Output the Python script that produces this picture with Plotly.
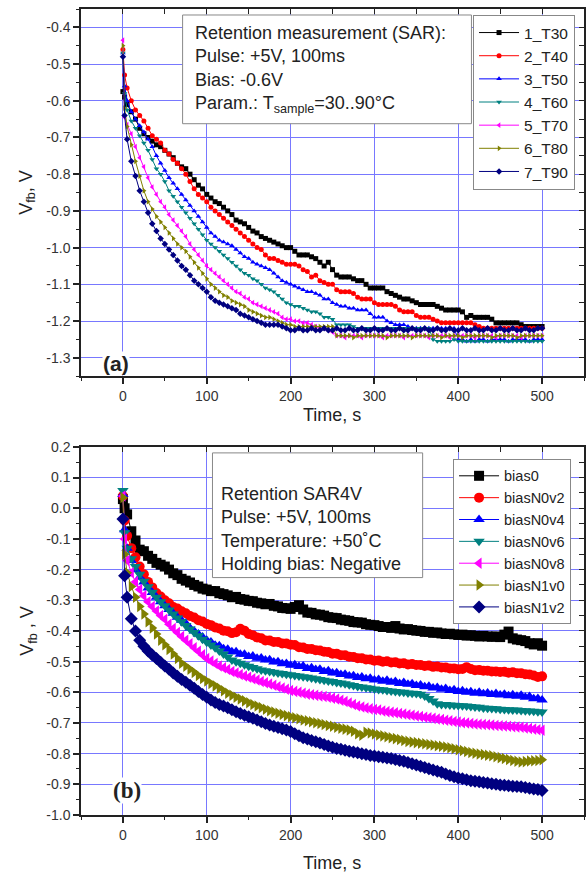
import plotly.graph_objects as go

# ---------------- data ----------------
TIME = [0, 2] + list(range(5, 505, 5))

# Panel (a): retention at different sample temperatures (V_fb, V)
T30 = [-0.575, -0.59,
       -0.61, -0.63, -0.65, -0.675, -0.69, -0.70, -0.71, -0.72, -0.725, -0.735,
       -0.745, -0.755, -0.77, -0.78, -0.785, -0.80, -0.815, -0.83, -0.84, -0.855,
       -0.865, -0.875, -0.88, -0.89, -0.90, -0.91, -0.925, -0.93, -0.935, -0.945,
       -0.955, -0.96, -0.97, -0.975, -0.98, -0.985, -0.99, -0.995, -1.0, -1.0,
       -1.01, -1.02, -1.02, -1.02, -1.025, -1.03, -1.04, -1.05, -1.04, -1.06,
       -1.075, -1.08, -1.08, -1.08, -1.085, -1.09, -1.09, -1.10, -1.11, -1.11,
       -1.11, -1.11, -1.12, -1.125, -1.13, -1.135, -1.14, -1.14, -1.145, -1.15,
       -1.155, -1.155, -1.155, -1.155, -1.16, -1.165, -1.17, -1.17, -1.17, -1.17,
       -1.175, -1.19, -1.185, -1.19, -1.19, -1.19, -1.19, -1.195, -1.205, -1.205,
       -1.205, -1.205, -1.205, -1.205, -1.21, -1.215, -1.215, -1.215, -1.215, -1.215]
T40 = [-0.46, -0.53,
       -0.565, -0.60, -0.625, -0.64, -0.655, -0.675, -0.695, -0.705, -0.715, -0.735,
       -0.745, -0.76, -0.77, -0.785, -0.80, -0.82, -0.84, -0.855, -0.865, -0.875,
       -0.89, -0.90, -0.91, -0.92, -0.93, -0.94, -0.95, -0.96, -0.97, -0.98,
       -0.99, -1.0, -1.005, -1.02, -1.03, -1.03, -1.035, -1.04, -1.045, -1.045,
       -1.045, -1.05, -1.06, -1.065, -1.08, -1.075, -1.09, -1.095, -1.10, -1.10,
       -1.115, -1.12, -1.12, -1.12, -1.125, -1.135, -1.14, -1.14, -1.14, -1.15,
       -1.155, -1.155, -1.155, -1.155, -1.16, -1.17, -1.175, -1.175, -1.175, -1.185,
       -1.19, -1.19, -1.19, -1.195, -1.20, -1.205, -1.205, -1.205, -1.205, -1.205,
       -1.205, -1.205, -1.205, -1.21, -1.215, -1.22, -1.22, -1.22, -1.22, -1.22,
       -1.22, -1.22, -1.22, -1.22, -1.22, -1.22, -1.22, -1.22, -1.22, -1.22]
T50 = [-0.47, -0.56,
       -0.60, -0.63, -0.65, -0.668, -0.685, -0.705, -0.725, -0.75, -0.77, -0.79,
       -0.81, -0.825, -0.84, -0.855, -0.87, -0.885, -0.90, -0.915, -0.93, -0.945,
       -0.96, -0.97, -0.98, -0.985, -0.99, -0.995, -1.005, -1.015, -1.025, -1.03,
       -1.04, -1.045, -1.05, -1.055, -1.06, -1.07, -1.08, -1.09, -1.095, -1.10,
       -1.105, -1.11, -1.115, -1.12, -1.12, -1.125, -1.13, -1.14, -1.14, -1.15,
       -1.155, -1.16, -1.16, -1.165, -1.165, -1.17, -1.17, -1.17, -1.18, -1.19,
       -1.19, -1.19, -1.20, -1.205, -1.21, -1.21, -1.21, -1.215, -1.22, -1.22,
       -1.22, -1.22, -1.22, -1.22, -1.22, -1.22, -1.22, -1.22, -1.22, -1.25,
       -1.25, -1.255, -1.25, -1.255, -1.25, -1.25, -1.255, -1.25, -1.25, -1.25,
       -1.25, -1.255, -1.25, -1.25, -1.25, -1.25, -1.255, -1.25, -1.25, -1.25]
T60 = [-0.47, -0.58,
       -0.625, -0.655, -0.675, -0.695, -0.715, -0.735, -0.76, -0.785, -0.80, -0.82,
       -0.845, -0.86, -0.875, -0.89, -0.905, -0.92, -0.935, -0.95, -0.965, -0.98,
       -0.99, -1.0, -1.01, -1.02, -1.03, -1.04, -1.05, -1.06, -1.07, -1.075,
       -1.085, -1.09, -1.10, -1.11, -1.115, -1.12, -1.13, -1.14, -1.15, -1.155,
       -1.16, -1.16, -1.165, -1.17, -1.175, -1.175, -1.18, -1.19, -1.19, -1.195,
       -1.21, -1.21, -1.21, -1.21, -1.215, -1.22, -1.22, -1.22, -1.22, -1.22,
       -1.22, -1.22, -1.22, -1.22, -1.22, -1.22, -1.22, -1.22, -1.22, -1.22,
       -1.22, -1.22, -1.22, -1.25, -1.255, -1.255, -1.255, -1.255, -1.25, -1.255,
       -1.255, -1.255, -1.255, -1.255, -1.255, -1.255, -1.255, -1.255, -1.255, -1.255,
       -1.255, -1.255, -1.255, -1.255, -1.255, -1.255, -1.255, -1.255, -1.255, -1.255]
T70 = [-0.435, -0.645,
       -0.665, -0.69, -0.725, -0.755, -0.78, -0.81, -0.835, -0.855, -0.875, -0.89,
       -0.91, -0.925, -0.94, -0.955, -0.97, -0.99, -1.005, -1.02, -1.035, -1.05,
       -1.06, -1.07, -1.08, -1.09, -1.10, -1.11, -1.12, -1.125, -1.135, -1.14,
       -1.15, -1.155, -1.16, -1.165, -1.17, -1.175, -1.18, -1.19, -1.195, -1.195,
       -1.20, -1.20, -1.205, -1.205, -1.21, -1.215, -1.22, -1.22, -1.225, -1.23,
       -1.24, -1.24, -1.245, -1.24, -1.24, -1.24, -1.245, -1.24, -1.24, -1.24,
       -1.24, -1.245, -1.24, -1.24, -1.24, -1.24, -1.245, -1.24, -1.24, -1.24,
       -1.24, -1.24, -1.245, -1.24, -1.24, -1.24, -1.24, -1.245, -1.24, -1.24,
       -1.24, -1.24, -1.24, -1.245, -1.24, -1.24, -1.24, -1.24, -1.245, -1.24,
       -1.24, -1.24, -1.24, -1.24, -1.245, -1.24, -1.24, -1.24, -1.24, -1.24]
T80 = [-0.45, -0.62,
       -0.67, -0.72, -0.765, -0.805, -0.845, -0.875, -0.895, -0.915, -0.93, -0.945,
       -0.96, -0.975, -0.99, -1.0, -1.01, -1.025, -1.04, -1.055, -1.07, -1.085,
       -1.10, -1.11, -1.12, -1.13, -1.135, -1.145, -1.15, -1.155, -1.16, -1.17,
       -1.175, -1.18, -1.185, -1.19, -1.19, -1.195, -1.20, -1.205, -1.21, -1.21,
       -1.215, -1.215, -1.215, -1.215, -1.215, -1.215, -1.215, -1.215, -1.215, -1.215,
       -1.24, -1.24, -1.24, -1.24, -1.245, -1.24, -1.24, -1.24, -1.24, -1.24,
       -1.24, -1.24, -1.245, -1.24, -1.24, -1.24, -1.24, -1.24, -1.245, -1.24,
       -1.24, -1.24, -1.24, -1.24, -1.24, -1.245, -1.24, -1.24, -1.24, -1.24,
       -1.245, -1.24, -1.24, -1.24, -1.24, -1.24, -1.24, -1.245, -1.24, -1.24,
       -1.24, -1.24, -1.24, -1.245, -1.24, -1.24, -1.24, -1.24, -1.24, -1.24]
T90 = [-0.48, -0.64,
       -0.705, -0.765, -0.805, -0.845, -0.875, -0.905, -0.935, -0.955, -0.975, -0.99,
       -1.005, -1.02, -1.035, -1.05, -1.06, -1.075, -1.09, -1.10, -1.11, -1.12,
       -1.135, -1.145, -1.15, -1.155, -1.16, -1.165, -1.17, -1.18, -1.185, -1.19,
       -1.195, -1.20, -1.205, -1.21, -1.21, -1.21, -1.21, -1.215, -1.22, -1.225,
       -1.225, -1.22, -1.225, -1.225, -1.22, -1.225, -1.225, -1.22, -1.225, -1.225,
       -1.22, -1.225, -1.225, -1.22, -1.225, -1.225, -1.22, -1.225, -1.225, -1.22,
       -1.225, -1.225, -1.22, -1.225, -1.225, -1.22, -1.225, -1.225, -1.22, -1.225,
       -1.225, -1.22, -1.225, -1.225, -1.22, -1.225, -1.225, -1.22, -1.225, -1.225,
       -1.22, -1.225, -1.225, -1.22, -1.225, -1.225, -1.22, -1.225, -1.225, -1.22,
       -1.225, -1.225, -1.22, -1.225, -1.225, -1.22, -1.225, -1.225, -1.22, -1.22]

# Panel (b): retention at different holding biases (V_fb, V)
BIAS0 = [0.03, 0.0,
         -0.02, -0.075, -0.105, -0.135, -0.14, -0.155, -0.165, -0.178, -0.184, -0.19,
         -0.2, -0.212, -0.218, -0.23, -0.236, -0.242, -0.25, -0.255, -0.262, -0.265,
         -0.27, -0.27, -0.277, -0.28, -0.284, -0.29, -0.289, -0.296, -0.298, -0.302,
         -0.303, -0.308, -0.31, -0.313, -0.312, -0.318, -0.32, -0.325, -0.326, -0.328,
         -0.322, -0.316, -0.33, -0.34, -0.341, -0.346, -0.347, -0.35, -0.355, -0.357,
         -0.358, -0.363, -0.365, -0.367, -0.371, -0.372, -0.373, -0.378, -0.38, -0.381,
         -0.384, -0.387, -0.387, -0.39, -0.384, -0.392, -0.395, -0.394, -0.397, -0.399,
         -0.4, -0.403, -0.403, -0.406, -0.405, -0.408, -0.41, -0.409, -0.411, -0.413,
         -0.412, -0.415, -0.414, -0.416, -0.418, -0.416, -0.418, -0.419, -0.418, -0.42,
         -0.412, -0.402, -0.424, -0.428, -0.43, -0.433, -0.44, -0.444, -0.44, -0.448]
BIASN0V2 = [0.04, -0.04,
            -0.09, -0.13, -0.16, -0.19, -0.215, -0.24, -0.258, -0.276, -0.288, -0.3,
            -0.31, -0.322, -0.327, -0.336, -0.342, -0.351, -0.356, -0.365, -0.369, -0.377,
            -0.381, -0.389, -0.392, -0.399, -0.401, -0.407, -0.404, -0.393, -0.399, -0.41,
            -0.414, -0.421, -0.424, -0.431, -0.431, -0.436, -0.436, -0.441, -0.441, -0.445,
            -0.446, -0.453, -0.454, -0.459, -0.459, -0.463, -0.464, -0.468, -0.469, -0.474,
            -0.474, -0.479, -0.479, -0.484, -0.485, -0.489, -0.489, -0.493, -0.493, -0.497,
            -0.496, -0.5, -0.499, -0.503, -0.502, -0.506, -0.505, -0.509, -0.508, -0.511,
            -0.511, -0.514, -0.513, -0.517, -0.516, -0.519, -0.519, -0.522, -0.522, -0.525,
            -0.524, -0.518, -0.524, -0.528, -0.527, -0.53, -0.53, -0.532, -0.532, -0.534,
            -0.533, -0.536, -0.535, -0.538, -0.538, -0.541, -0.542, -0.545, -0.55, -0.548]
BIASN0V4 = [0.045, -0.07,
            -0.13, -0.17, -0.2, -0.225, -0.24, -0.26, -0.275, -0.29, -0.305, -0.318,
            -0.33, -0.342, -0.355, -0.365, -0.375, -0.39, -0.4, -0.41, -0.42, -0.43,
            -0.436, -0.447, -0.448, -0.458, -0.46, -0.468, -0.468, -0.476, -0.476, -0.483,
            -0.482, -0.489, -0.488, -0.495, -0.494, -0.501, -0.5, -0.507, -0.506, -0.512,
            -0.51, -0.516, -0.514, -0.522, -0.52, -0.526, -0.525, -0.532, -0.53, -0.537,
            -0.536, -0.542, -0.541, -0.547, -0.546, -0.552, -0.55, -0.556, -0.554, -0.56,
            -0.558, -0.564, -0.561, -0.567, -0.565, -0.571, -0.568, -0.574, -0.572, -0.578,
            -0.576, -0.582, -0.58, -0.586, -0.584, -0.59, -0.588, -0.594, -0.592, -0.597,
            -0.595, -0.6, -0.598, -0.603, -0.6, -0.605, -0.602, -0.607, -0.604, -0.609,
            -0.606, -0.611, -0.608, -0.613, -0.61, -0.616, -0.614, -0.621, -0.62, -0.625]
BIASN0V6 = [0.058, -0.08,
            -0.13, -0.165, -0.19, -0.215, -0.238, -0.256, -0.274, -0.29, -0.305, -0.318,
            -0.332, -0.345, -0.358, -0.37, -0.382, -0.394, -0.405, -0.416, -0.427, -0.437,
            -0.446, -0.455, -0.465, -0.475, -0.485, -0.495, -0.5, -0.505, -0.51, -0.515,
            -0.519, -0.523, -0.527, -0.53, -0.532, -0.535, -0.537, -0.539, -0.541, -0.543,
            -0.545, -0.547, -0.549, -0.551, -0.553, -0.556, -0.558, -0.561, -0.563, -0.565,
            -0.568, -0.57, -0.572, -0.575, -0.578, -0.581, -0.583, -0.585, -0.587, -0.589,
            -0.591, -0.592, -0.594, -0.596, -0.597, -0.599, -0.6, -0.602, -0.603, -0.604,
            -0.606, -0.612, -0.62, -0.628, -0.637, -0.64, -0.64, -0.641, -0.642, -0.643,
            -0.644, -0.645, -0.646, -0.648, -0.649, -0.651, -0.652, -0.653, -0.654, -0.655,
            -0.656, -0.657, -0.658, -0.658, -0.659, -0.66, -0.661, -0.662, -0.663, -0.664]
BIASN0V8 = [0.04, -0.1,
            -0.17, -0.21, -0.24, -0.265, -0.285, -0.305, -0.32, -0.335, -0.35, -0.362,
            -0.378, -0.392, -0.405, -0.418, -0.43, -0.442, -0.455, -0.466, -0.478, -0.49,
            -0.498, -0.506, -0.514, -0.52, -0.526, -0.532, -0.537, -0.542, -0.547, -0.551,
            -0.556, -0.56, -0.565, -0.569, -0.573, -0.577, -0.582, -0.586, -0.59, -0.594,
            -0.597, -0.6, -0.603, -0.606, -0.608, -0.61, -0.612, -0.614, -0.616, -0.619,
            -0.622, -0.626, -0.63, -0.635, -0.64, -0.645, -0.648, -0.651, -0.654, -0.656,
            -0.658, -0.661, -0.663, -0.665, -0.667, -0.669, -0.671, -0.673, -0.675, -0.677,
            -0.679, -0.681, -0.683, -0.685, -0.687, -0.689, -0.691, -0.693, -0.695, -0.697,
            -0.699, -0.7, -0.702, -0.703, -0.704, -0.705, -0.706, -0.707, -0.708, -0.709,
            -0.71, -0.711, -0.712, -0.713, -0.714, -0.716, -0.718, -0.72, -0.722, -0.724]
BIASN1V0 = [0.035, -0.15,
            -0.21, -0.255, -0.29, -0.32, -0.345, -0.37, -0.39, -0.41, -0.43, -0.445,
            -0.46, -0.475, -0.49, -0.505, -0.515, -0.525, -0.535, -0.545, -0.555, -0.563,
            -0.571, -0.579, -0.587, -0.595, -0.603, -0.61, -0.616, -0.622, -0.628, -0.634,
            -0.64, -0.645, -0.65, -0.655, -0.66, -0.664, -0.668, -0.672, -0.676, -0.68,
            -0.683, -0.686, -0.69, -0.693, -0.696, -0.699, -0.702, -0.705, -0.708, -0.711,
            -0.714, -0.717, -0.72, -0.723, -0.727, -0.735, -0.74, -0.73, -0.733, -0.736,
            -0.739, -0.742, -0.745, -0.748, -0.751, -0.754, -0.757, -0.76, -0.762, -0.764,
            -0.766, -0.768, -0.77, -0.772, -0.774, -0.776, -0.778, -0.781, -0.784, -0.787,
            -0.79, -0.793, -0.796, -0.799, -0.801, -0.803, -0.805, -0.807, -0.81, -0.813,
            -0.816, -0.819, -0.822, -0.825, -0.827, -0.826, -0.824, -0.823, -0.822, -0.82]
BIASN1V2 = [-0.035, -0.22,
            -0.29, -0.36, -0.4, -0.43, -0.45, -0.465, -0.478, -0.49, -0.502, -0.514,
            -0.525, -0.537, -0.548, -0.558, -0.567, -0.577, -0.587, -0.597, -0.607, -0.616,
            -0.625, -0.633, -0.64, -0.645, -0.65, -0.657, -0.663, -0.669, -0.675, -0.68,
            -0.685, -0.69, -0.696, -0.702, -0.707, -0.711, -0.715, -0.719, -0.723, -0.728,
            -0.735, -0.742, -0.748, -0.752, -0.757, -0.761, -0.765, -0.77, -0.775, -0.779,
            -0.783, -0.786, -0.789, -0.792, -0.795, -0.797, -0.8, -0.803, -0.806, -0.808,
            -0.81, -0.812, -0.814, -0.816, -0.819, -0.822, -0.825, -0.829, -0.833, -0.837,
            -0.841, -0.845, -0.849, -0.853, -0.857, -0.861, -0.866, -0.871, -0.875, -0.879,
            -0.882, -0.885, -0.888, -0.89, -0.892, -0.894, -0.896, -0.898, -0.9, -0.902,
            -0.903, -0.905, -0.906, -0.907, -0.908, -0.91, -0.913, -0.915, -0.917, -0.92]

NAMES_A = ["1_T30", "2_T40", "3_T50", "4_T60", "5_T70", "6_T80", "7_T90"]
SERIES_A = [T30, T40, T50, T60, T70, T80, T90]
NAMES_B = ["bias0", "biasN0v2", "biasN0v4", "biasN0v6", "biasN0v8", "biasN1v0", "biasN1v2"]
SERIES_B = [BIAS0, BIASN0V2, BIASN0V4, BIASN0V6, BIASN0V8, BIASN1V0, BIASN1V2]

X_TICKS = [0, 100, 200, 300, 400, 500]
YA_TICKS = [-0.4, -0.5, -0.6, -0.7, -0.8, -0.9, -1.0, -1.1, -1.2, -1.3]
YA_LABELS = ["-0.4", "-0.5", "-0.6", "-0.7", "-0.8", "-0.9", "-1.0", "-1.1", "-1.2", "-1.3"]
YB_TICKS = [0.2, 0.1, 0.0, -0.1, -0.2, -0.3, -0.4, -0.5, -0.6, -0.7, -0.8, -0.9, -1.0]
YB_LABELS = ["0.2", "0.1", "0.0", "-0.1", "-0.2", "-0.3", "-0.4", "-0.5", "-0.6",
             "-0.7", "-0.8", "-0.9", "-1.0"]

for s in SERIES_A + SERIES_B:
    assert len(s) == len(TIME), len(s)

COLORS = ["#000000", "#ff0000", "#0000ff", "#008080", "#ff00ff", "#808000", "#000080"]
SYMBOLS = ["square", "circle", "triangle-up", "triangle-down", "triangle-left",
           "triangle-right", "diamond"]

# ---------------- figure ----------------
W, H = 587, 875
ML, MR, MT, MB = 81, 1, 7, 60
PW, PH = W - ML - MR, H - MT - MB


def px(xp):
    return (xp - ML) / PW


def py(yp):
    return (H - MB - yp) / PH


fig = go.Figure()

for name, ys, col, sym in zip(NAMES_A, SERIES_A, COLORS, SYMBOLS):
    fig.add_trace(go.Scatter(
        x=TIME, y=ys, name=name, mode="lines+markers", xaxis="x", yaxis="y",
        line=dict(color=col, width=1), marker=dict(symbol=sym, size=5, color=col),
        legend="legend"))

for name, ys, col, sym in zip(NAMES_B, SERIES_B, COLORS, SYMBOLS):
    fig.add_trace(go.Scatter(
        x=TIME, y=ys, name=name, mode="lines+markers", xaxis="x2", yaxis="y2",
        line=dict(color=col, width=1), marker=dict(symbol=sym, size=10, color=col),
        legend="legend2"))

# empty traces so the mirrored (inside-tick) axes are drawn
fig.add_trace(go.Scatter(x=[], y=[], xaxis="x3", yaxis="y3", showlegend=False))
fig.add_trace(go.Scatter(x=[], y=[], xaxis="x4", yaxis="y4", showlegend=False))

GRID = "#7878ff"
TICKFONT = dict(family="Liberation Sans, Arial", size=14, color="#333333")
XR = [-50, 550]
YA_R = [-1.35, -0.35]
YB_R = [-1.0, 0.2]

YA_MINOR = [round(-0.35 - 0.05 * i, 2) for i in range(21)]
YB_MINOR = [round(0.2 - 0.05 * i, 2) for i in range(25)]
X_MINOR = list(range(-50, 551, 50))


def base_x(anchor):
    return dict(range=XR, anchor=anchor, tickmode="array", tickvals=X_TICKS,
                ticks="outside", ticklen=6, tickwidth=1.5, tickcolor="#222",
                minor=dict(tickmode="array", tickvals=X_MINOR, ticks="outside",
                           ticklen=3, tickwidth=1.2, tickcolor="#222", showgrid=False),
                showgrid=True, gridcolor=GRID, gridwidth=1, zeroline=False,
                showline=True, linecolor="#222", linewidth=1.5, mirror=True,
                tickfont=TICKFONT)


def base_y(anchor, rng, tv, tt, minor, domain):
    return dict(range=rng, anchor=anchor, domain=domain, tickmode="array",
                tickvals=tv, ticktext=tt, ticks="outside", ticklen=6, tickwidth=1.5,
                tickcolor="#222",
                minor=dict(tickmode="array", tickvals=minor, ticks="outside",
                           ticklen=3, tickwidth=1.2, tickcolor="#222", showgrid=False),
                showgrid=True, gridcolor=GRID, gridwidth=1, zeroline=False,
                showline=True, linecolor="#222", linewidth=1.5, mirror=True,
                tickfont=TICKFONT)


def inner_x(over, anchor):
    return dict(range=XR, overlaying=over, anchor=anchor, side="top",
                tickmode="array", tickvals=X_TICKS, ticks="inside", ticklen=5,
                tickwidth=1.2, tickcolor="#222",
                minor=dict(tickmode="array", tickvals=X_MINOR, ticks="inside",
                           ticklen=5, tickwidth=1.2, tickcolor="#222", showgrid=False),
                showticklabels=False, showgrid=False, zeroline=False, showline=False)


def inner_y(over, anchor, rng, tv, minor):
    return dict(range=rng, overlaying=over, anchor=anchor, side="right",
                tickmode="array", tickvals=tv, ticks="inside", ticklen=5,
                tickwidth=1.2, tickcolor="#222",
                minor=dict(tickmode="array", tickvals=minor, ticks="inside",
                           ticklen=5, tickwidth=1.2, tickcolor="#222", showgrid=False),
                showticklabels=False, showgrid=False, zeroline=False, showline=False)


TOP_DOM = [py(375), 1.0]
BOT_DOM = [0.0, py(446)]

fig.update_layout(
    width=W, height=H,
    margin=dict(l=ML, r=MR, t=MT, b=MB, pad=0),
    paper_bgcolor="white", plot_bgcolor="white",
    font=dict(family="Liberation Sans, Arial", color="#222"),
    xaxis=base_x("y"),
    yaxis=base_y("x", YA_R, YA_TICKS, YA_LABELS, YA_MINOR, TOP_DOM),
    xaxis2=base_x("y2"),
    yaxis2=base_y("x2", YB_R, YB_TICKS, YB_LABELS, YB_MINOR, BOT_DOM),
    xaxis3=inner_x("x", "y"),
    yaxis3=inner_y("y", "x", YA_R, YA_TICKS, YA_MINOR),
    xaxis4=inner_x("x2", "y2"),
    yaxis4=inner_y("y2", "x2", YB_R, YB_TICKS, YB_MINOR),
    legend=dict(x=px(577), y=py(13), xanchor="right", yanchor="top",
                bgcolor="white", bordercolor="#888888", borderwidth=1,
                font=dict(family="Liberation Sans, Arial", size=15.5, color="#222"),
                itemwidth=40, tracegroupgap=0),
    legend2=dict(x=px(573), y=py(458), xanchor="right", yanchor="top",
                 bgcolor="white", bordercolor="#888888", borderwidth=1,
                 font=dict(family="Liberation Sans, Arial", size=14.5, color="#222"),
                 itemwidth=40, tracegroupgap=0),
    showlegend=True,
)

# text boxes
fig.add_shape(type="rect", xref="paper", yref="paper",
              x0=px(183), x1=px(473), y0=py(122), y1=py(13),
              line=dict(color="#888888", width=1), fillcolor="white", layer="above")
fig.add_shape(type="rect", xref="paper", yref="paper",
              x0=px(213), x1=px(424), y0=py(577), y1=py(452),
              line=dict(color="#888888", width=1), fillcolor="white", layer="above")

BOXFONT = dict(family="Liberation Sans, Arial", size=18, color="#222")
fig.add_annotation(xref="paper", yref="paper", x=px(193), y=py(19),
                   xanchor="left", yanchor="top", align="left", showarrow=False,
                   font=BOXFONT,
                   text="Retention measurement (SAR):<br>Pulse: +5V, 100ms<br>"
                        "Bias: -0.6V<br>Param.: T<sub>sample</sub>=30..90°C")
fig.add_annotation(xref="paper", yref="paper", x=px(220), y=py(481),
                   xanchor="left", yanchor="top", align="left", showarrow=False,
                   font=BOXFONT,
                   text="Retention SAR4V<br>Pulse: +5V, 100ms<br>"
                        "Temperature: +50˚C<br>Holding bias: Negative")

# panel labels
fig.add_annotation(xref="paper", yref="paper", x=px(116), y=py(362),
                   xanchor="center", yanchor="middle", showarrow=False,
                   bgcolor="white", borderpad=0,
                   font=dict(family="Liberation Sans, Arial", size=21, color="#222"),
                   text="<b>(a)</b>")
fig.add_annotation(xref="paper", yref="paper", x=px(127), y=py(790),
                   xanchor="center", yanchor="middle", showarrow=False,
                   bgcolor="white", borderpad=0,
                   font=dict(family="Liberation Serif, Times New Roman", size=23,
                             color="#222"),
                   text="<b>(b)</b>")

# axis titles
TFONT = dict(family="Liberation Sans, Arial", size=18, color="#222")
fig.add_annotation(xref="paper", yref="paper", x=px(333), y=py(414),
                   xanchor="center", yanchor="middle", showarrow=False,
                   font=TFONT, text="Time, s")
fig.add_annotation(xref="paper", yref="paper", x=px(333), y=py(863),
                   xanchor="center", yanchor="middle", showarrow=False,
                   font=TFONT, text="Time, s")
fig.add_annotation(xref="paper", yref="paper", x=px(27), y=py(191),
                   xanchor="center", yanchor="middle", showarrow=False,
                   textangle=-90, font=TFONT, text="V<sub>fb</sub>, V")
fig.add_annotation(xref="paper", yref="paper", x=px(28), y=py(630),
                   xanchor="center", yanchor="middle", showarrow=False,
                   textangle=-90, font=TFONT, text="V<sub>fb</sub> , V")

fig.write_html("out.html")
